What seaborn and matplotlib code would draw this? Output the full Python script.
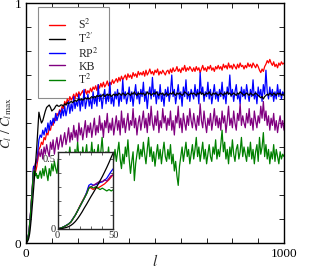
import numpy as np
import pandas as pd
import matplotlib
matplotlib.use("Agg")
import matplotlib.pyplot as plt
import seaborn as sns
from matplotlib.lines import Line2D

# ---------------- data ----------------
# l grid: 0..48 step 2 (inset detail), then 50..1000 step 5
l_early = list(range(0, 50, 2))
l_late_start, l_late_step = 50, 5

series_names = ["S$^2$", "T$^{2\\prime}$", "RP$^2$", "KB", "T$^2$"]
series_colors = ["#ff0000", "#000000", "#0000ff", "#800080", "#008000"]

s2_early = [0, 0.005, 0.01, 0.017, 0.025, 0.035, 0.05, 0.075, 0.10, 0.13, 0.165, 0.195, 0.225,
            0.255, 0.30, 0.29, 0.28, 0.295, 0.29, 0.30, 0.31, 0.32, 0.335, 0.35, 0.37]
s2_late = [
    0.39, 0.40, 0.42, 0.41, 0.44, 0.43, 0.46, 0.45, 0.48, 0.47, 0.50, 0.49, 0.52, 0.51, 0.54, 0.53, 0.555, 0.545, 0.57, 0.56,
    0.59, 0.575, 0.60, 0.585, 0.61, 0.595, 0.605, 0.62, 0.60, 0.625, 0.61, 0.63, 0.615, 0.625, 0.635, 0.615, 0.64, 0.62, 0.635, 0.625,
    0.645, 0.63, 0.65, 0.64, 0.655, 0.635, 0.66, 0.645, 0.665, 0.65, 0.67, 0.65, 0.66, 0.675, 0.655, 0.67, 0.66, 0.68, 0.665, 0.675,
    0.685, 0.67, 0.69, 0.675, 0.695, 0.68, 0.69, 0.70, 0.68, 0.705, 0.69, 0.70, 0.685, 0.71, 0.695, 0.705, 0.69, 0.715, 0.70, 0.71,
    0.70, 0.715, 0.695, 0.72, 0.70, 0.71, 0.725, 0.705, 0.715, 0.70, 0.72, 0.71, 0.725, 0.70, 0.715, 0.705, 0.72, 0.71, 0.70, 0.715,
    0.72, 0.705, 0.725, 0.71, 0.73, 0.715, 0.72, 0.735, 0.715, 0.725, 0.71, 0.73, 0.72, 0.74, 0.715, 0.73, 0.72, 0.735, 0.725, 0.715,
    0.73, 0.715, 0.735, 0.72, 0.73, 0.71, 0.725, 0.74, 0.72, 0.73, 0.715, 0.735, 0.725, 0.74, 0.72, 0.73, 0.715, 0.735, 0.725, 0.74,
    0.725, 0.735, 0.72, 0.745, 0.73, 0.74, 0.725, 0.75, 0.73, 0.74, 0.725, 0.745, 0.735, 0.725, 0.745, 0.73, 0.75, 0.735, 0.74, 0.725,
    0.74, 0.73, 0.75, 0.735, 0.745, 0.73, 0.75, 0.74, 0.73, 0.745, 0.735, 0.72, 0.71, 0.725, 0.715, 0.735, 0.745, 0.76, 0.75, 0.765,
    0.75, 0.74, 0.755, 0.735, 0.745, 0.73, 0.75, 0.74, 0.755, 0.745, 0.75]

t2p_early = [0, 0.001, 0.003, 0.007, 0.011, 0.017, 0.026, 0.038, 0.054, 0.074, 0.097, 0.122, 0.150,
             0.176, 0.204, 0.232, 0.258, 0.285, 0.314, 0.343, 0.372, 0.404, 0.437, 0.472, 0.51]
t2p_late = [
    0.545, 0.52, 0.50, 0.51, 0.53, 0.55, 0.565, 0.57, 0.575, 0.565, 0.55, 0.555, 0.56, 0.57, 0.575, 0.57, 0.57, 0.575, 0.575, 0.57,
    0.58, 0.575, 0.585, 0.58, 0.585, 0.59, 0.585, 0.59, 0.595, 0.59, 0.595, 0.60, 0.595, 0.60, 0.595, 0.60, 0.605, 0.60, 0.605, 0.60,
    0.605, 0.61, 0.605, 0.61, 0.605, 0.615, 0.61, 0.615, 0.61, 0.615, 0.62, 0.61, 0.615, 0.62, 0.615, 0.62, 0.61, 0.615, 0.62, 0.615,
    0.62, 0.615, 0.625, 0.62, 0.615, 0.625, 0.62, 0.615, 0.62, 0.625, 0.62, 0.615, 0.625, 0.62, 0.63, 0.62, 0.615, 0.625, 0.62, 0.625,
    0.62, 0.625, 0.615, 0.62, 0.63, 0.62, 0.625, 0.615, 0.62, 0.625, 0.62, 0.63, 0.62, 0.615, 0.625, 0.62, 0.625, 0.615, 0.62, 0.625,
    0.615, 0.62, 0.625, 0.62, 0.63, 0.62, 0.615, 0.625, 0.62, 0.625, 0.62, 0.615, 0.62, 0.63, 0.625, 0.62, 0.615, 0.62, 0.625, 0.62,
    0.625, 0.62, 0.615, 0.625, 0.62, 0.63, 0.62, 0.625, 0.615, 0.62, 0.625, 0.62, 0.63, 0.62, 0.615, 0.625, 0.62, 0.625, 0.62, 0.615,
    0.62, 0.625, 0.62, 0.615, 0.625, 0.62, 0.63, 0.62, 0.625, 0.615, 0.62, 0.625, 0.62, 0.615, 0.625, 0.62, 0.63, 0.625, 0.62, 0.615,
    0.62, 0.625, 0.62, 0.615, 0.625, 0.62, 0.615, 0.62, 0.625, 0.62, 0.615, 0.61, 0.605, 0.61, 0.60, 0.61, 0.615, 0.62, 0.615, 0.625,
    0.62, 0.615, 0.625, 0.62, 0.615, 0.625, 0.62, 0.625, 0.615, 0.62, 0.615]

rp2_early = [0, 0.005, 0.01, 0.018, 0.027, 0.037, 0.052, 0.077, 0.10, 0.13, 0.16, 0.19, 0.22,
             0.26, 0.31, 0.32, 0.31, 0.315, 0.32, 0.33, 0.335, 0.345, 0.36, 0.385, 0.41]
rp2_late = [
    0.43, 0.45, 0.44, 0.47, 0.45, 0.48, 0.46, 0.50, 0.47, 0.51, 0.49, 0.52, 0.50, 0.54, 0.51, 0.53, 0.55, 0.52, 0.56, 0.53,
    0.57, 0.53, 0.56, 0.59, 0.54, 0.58, 0.55, 0.61, 0.56, 0.59, 0.57, 0.62, 0.55, 0.60, 0.57, 0.64, 0.56, 0.59, 0.62, 0.57,
    0.60, 0.56, 0.63, 0.58, 0.61, 0.57, 0.66, 0.59, 0.62, 0.56, 0.61, 0.64, 0.58, 0.62, 0.59, 0.67, 0.58, 0.61, 0.57, 0.63,
    0.60, 0.64, 0.57, 0.62, 0.59, 0.68, 0.60, 0.63, 0.58, 0.61, 0.65, 0.59, 0.63, 0.57, 0.62, 0.66, 0.60, 0.63, 0.58, 0.64,
    0.61, 0.67, 0.59, 0.63, 0.56, 0.62, 0.65, 0.60, 0.69, 0.61, 0.64, 0.58, 0.63, 0.60, 0.66, 0.59, 0.62, 0.57, 0.64, 0.61,
    0.65, 0.59, 0.63, 0.70, 0.61, 0.64, 0.58, 0.62, 0.66, 0.60, 0.63, 0.57, 0.65, 0.61, 0.68, 0.60, 0.63, 0.59, 0.64, 0.62,
    0.60, 0.66, 0.61, 0.64, 0.58, 0.71, 0.62, 0.65, 0.59, 0.63, 0.61, 0.67, 0.60, 0.64, 0.58, 0.62, 0.66, 0.60, 0.63, 0.59,
    0.64, 0.61, 0.67, 0.60, 0.63, 0.58, 0.65, 0.62, 0.70, 0.61, 0.64, 0.59, 0.63, 0.66, 0.60, 0.62, 0.58, 0.65, 0.61, 0.64,
    0.60, 0.66, 0.62, 0.59, 0.64, 0.61, 0.68, 0.60, 0.63, 0.58, 0.65, 0.61, 0.64, 0.59, 0.66, 0.62, 0.72, 0.63, 0.60, 0.65,
    0.61, 0.64, 0.59, 0.63, 0.60, 0.66, 0.61, 0.64, 0.60, 0.63, 0.62]

kb_early = [0, 0.005, 0.01, 0.017, 0.026, 0.036, 0.05, 0.075, 0.10, 0.13, 0.16, 0.19, 0.22,
            0.25, 0.29, 0.30, 0.31, 0.32, 0.33, 0.34, 0.335, 0.35, 0.34, 0.36, 0.38]
kb_late = [
    0.38, 0.36, 0.39, 0.35, 0.40, 0.37, 0.41, 0.38, 0.36, 0.42, 0.39, 0.43, 0.37, 0.41, 0.44, 0.39, 0.42, 0.45, 0.40, 0.43,
    0.46, 0.41, 0.44, 0.48, 0.42, 0.46, 0.43, 0.49, 0.44, 0.47, 0.42, 0.50, 0.45, 0.48, 0.43, 0.47, 0.51, 0.44, 0.49, 0.46,
    0.50, 0.44, 0.48, 0.52, 0.45, 0.49, 0.46, 0.53, 0.47, 0.50, 0.44, 0.51, 0.48, 0.54, 0.46, 0.50, 0.47, 0.52, 0.45, 0.49,
    0.53, 0.47, 0.51, 0.45, 0.55, 0.48, 0.52, 0.46, 0.50, 0.54, 0.47, 0.51, 0.49, 0.56, 0.48, 0.52, 0.45, 0.50, 0.53, 0.47,
    0.51, 0.55, 0.48, 0.52, 0.46, 0.54, 0.49, 0.57, 0.50, 0.47, 0.53, 0.49, 0.55, 0.46, 0.51, 0.48, 0.56, 0.50, 0.53, 0.47,
    0.52, 0.49, 0.55, 0.47, 0.51, 0.45, 0.53, 0.50, 0.57, 0.48, 0.52, 0.46, 0.54, 0.50, 0.47, 0.53, 0.49, 0.56, 0.51, 0.48,
    0.54, 0.50, 0.47, 0.53, 0.49, 0.58, 0.51, 0.48, 0.55, 0.50, 0.46, 0.52, 0.49, 0.54, 0.47, 0.51, 0.56, 0.49, 0.53, 0.48,
    0.52, 0.47, 0.55, 0.50, 0.53, 0.46, 0.51, 0.57, 0.49, 0.52, 0.48, 0.55, 0.50, 0.47, 0.54, 0.51, 0.58, 0.49, 0.53, 0.50,
    0.48, 0.54, 0.50, 0.56, 0.49, 0.52, 0.47, 0.55, 0.51, 0.48, 0.53, 0.50, 0.57, 0.52, 0.59, 0.51, 0.55, 0.49, 0.53, 0.47,
    0.52, 0.49, 0.54, 0.47, 0.51, 0.46, 0.50, 0.53, 0.48, 0.51, 0.47]

t2_early = [0, 0.005, 0.01, 0.017, 0.026, 0.036, 0.05, 0.074, 0.10, 0.13, 0.16, 0.19, 0.22,
            0.25, 0.29, 0.30, 0.29, 0.30, 0.29, 0.28, 0.29, 0.28, 0.27, 0.28, 0.27]
t2_late = [
    0.28, 0.30, 0.27, 0.31, 0.28, 0.32, 0.29, 0.26, 0.31, 0.28, 0.33, 0.30, 0.34, 0.31, 0.29, 0.35, 0.32, 0.36, 0.33, 0.37,
    0.34, 0.38, 0.32, 0.36, 0.40, 0.34, 0.37, 0.33, 0.39, 0.35, 0.42, 0.36, 0.38, 0.33, 0.40, 0.35, 0.37, 0.41, 0.34, 0.38,
    0.36, 0.42, 0.35, 0.39, 0.33, 0.37, 0.41, 0.34, 0.38, 0.44, 0.36, 0.32, 0.38, 0.35, 0.40, 0.33, 0.37, 0.30, 0.35, 0.39,
    0.34, 0.38, 0.42, 0.35, 0.31, 0.37, 0.33, 0.40, 0.36, 0.43, 0.35, 0.29, 0.34, 0.38, 0.26, 0.33, 0.37, 0.41, 0.35, 0.39,
    0.36, 0.42, 0.37, 0.33, 0.39, 0.44, 0.36, 0.40, 0.34, 0.38, 0.32, 0.37, 0.41, 0.35, 0.39, 0.33, 0.38, 0.42, 0.36, 0.34,
    0.39, 0.35, 0.41, 0.33, 0.37, 0.30, 0.34, 0.28, 0.24, 0.32, 0.36, 0.40, 0.34, 0.38, 0.42, 0.36, 0.39, 0.33, 0.37, 0.41,
    0.35, 0.39, 0.44, 0.36, 0.40, 0.34, 0.38, 0.42, 0.35, 0.39, 0.33, 0.37, 0.41, 0.36, 0.34, 0.40, 0.37, 0.43, 0.35, 0.39,
    0.36, 0.41, 0.47, 0.38, 0.42, 0.35, 0.39, 0.33, 0.40, 0.36, 0.43, 0.37, 0.34, 0.39, 0.41, 0.35, 0.38, 0.44, 0.36, 0.40,
    0.37, 0.34, 0.40, 0.36, 0.42, 0.35, 0.39, 0.33, 0.38, 0.41, 0.34, 0.44, 0.37, 0.40, 0.46, 0.36, 0.41, 0.35, 0.39, 0.33,
    0.38, 0.35, 0.41, 0.34, 0.39, 0.36, 0.33, 0.38, 0.35, 0.37, 0.36]

series_early = [s2_early, t2p_early, rp2_early, kb_early, t2_early]
series_late = [s2_late, t2p_late, rp2_late, kb_late, t2_late]

x_tick_labels = ["0", "1000"]
y_tick_labels = ["0", "1"]
inset_x_tick_labels = ["0", "50"]
inset_y_tick_labels = ["0", "0.5"]

# ---------------- style ----------------
sns.set_style("ticks")
plt.rcParams["font.family"] = ["Liberation Serif", "DejaVu Serif"]
plt.rcParams["mathtext.fontset"] = "stix"

frames = []
for name, e, lt in zip(series_names, series_early, series_late):
    l_late = [l_late_start + l_late_step * i for i in range(len(lt))]
    frames.append(pd.DataFrame({"l": l_early[:len(e)] + l_late, "C": list(e) + list(lt), "series": name}))
df = pd.concat(frames, ignore_index=True)

draw_order = [0, 2, 3, 4, 1]

fig = plt.figure(figsize=(3.1, 2.69), dpi=100)
ax = fig.add_axes([26 / 310, 26 / 269, 258 / 310, 240 / 269])

for k in draw_order:
    sub = df[df["series"] == series_names[k]]
    sns.lineplot(data=sub, x="l", y="C", color=series_colors[k], linewidth=0.9,
                 estimator=None, sort=False, ax=ax, legend=False, zorder=3)

ax.set_xlim(0, 1000)
ax.set_ylim(0, 1)
ax.set_xticks(np.arange(0, 1001, 100))
ax.set_xticklabels([x_tick_labels[0]] + [""] * 9 + [x_tick_labels[1]])
ax.set_yticks(np.linspace(0, 1, 11))
ax.set_yticklabels([y_tick_labels[0]] + [""] * 9 + [y_tick_labels[1]])
ax.tick_params(direction="in", top=True, right=True, length=3.5, width=0.6,
               labelsize=9.5, pad=3.5, colors="black")
for sp in ax.spines.values():
    sp.set_linewidth(1.0)
    sp.set_color("black")
    sp.set_zorder(4)
ax.set_xlabel("$l$", fontsize=11, labelpad=-5)
ax.set_ylabel(r"$C_l\ /\ C_{l\,\max}$", fontsize=9.5, labelpad=0)

handles = [Line2D([], [], color=c, linewidth=1.0) for c in series_colors]
leg = ax.legend(handles, series_names, loc="upper left",
                bbox_to_anchor=(0.0465, 0.983), borderaxespad=0,
                fancybox=False, edgecolor="0.55", framealpha=1, fontsize=8.5,
                handlelength=1.4, handletextpad=1.1, labelspacing=0.0,
                borderpad=0.9)
leg.get_frame().set_linewidth(0.8)
leg.set_zorder(2)

# ---------------- inset ----------------
ins = fig.add_axes([57.5 / 310, (269 - 229) / 269, 56 / 310, (229 - 151.5) / 269])
for k in draw_order:
    sub = df[(df["series"] == series_names[k]) & (df["l"] <= 60)]
    sns.lineplot(data=sub, x="l", y="C", color=series_colors[k], linewidth=0.9,
                 estimator=None, sort=False, ax=ins, legend=False)
ins.set_xlim(0, 50)
ins.set_ylim(0, 0.55)
ins.set_xticks(np.arange(0, 51, 10))
ins.set_xticklabels([inset_x_tick_labels[0]] + [""] * 4 + [inset_x_tick_labels[1]])
ins.set_yticks(np.arange(0, 0.51, 0.1))
ins.set_yticklabels([inset_y_tick_labels[0]] + [""] * 4 + [inset_y_tick_labels[1]])
ins.tick_params(direction="in", top=True, right=True, length=2.5, width=0.5,
                labelsize=7.5, pad=1.5)
for sp in ins.spines.values():
    sp.set_linewidth(1.0)
ins.set_xlabel("")
ins.set_ylabel("")
ins.set_facecolor("white")

fig.savefig("out.png", dpi=100)
